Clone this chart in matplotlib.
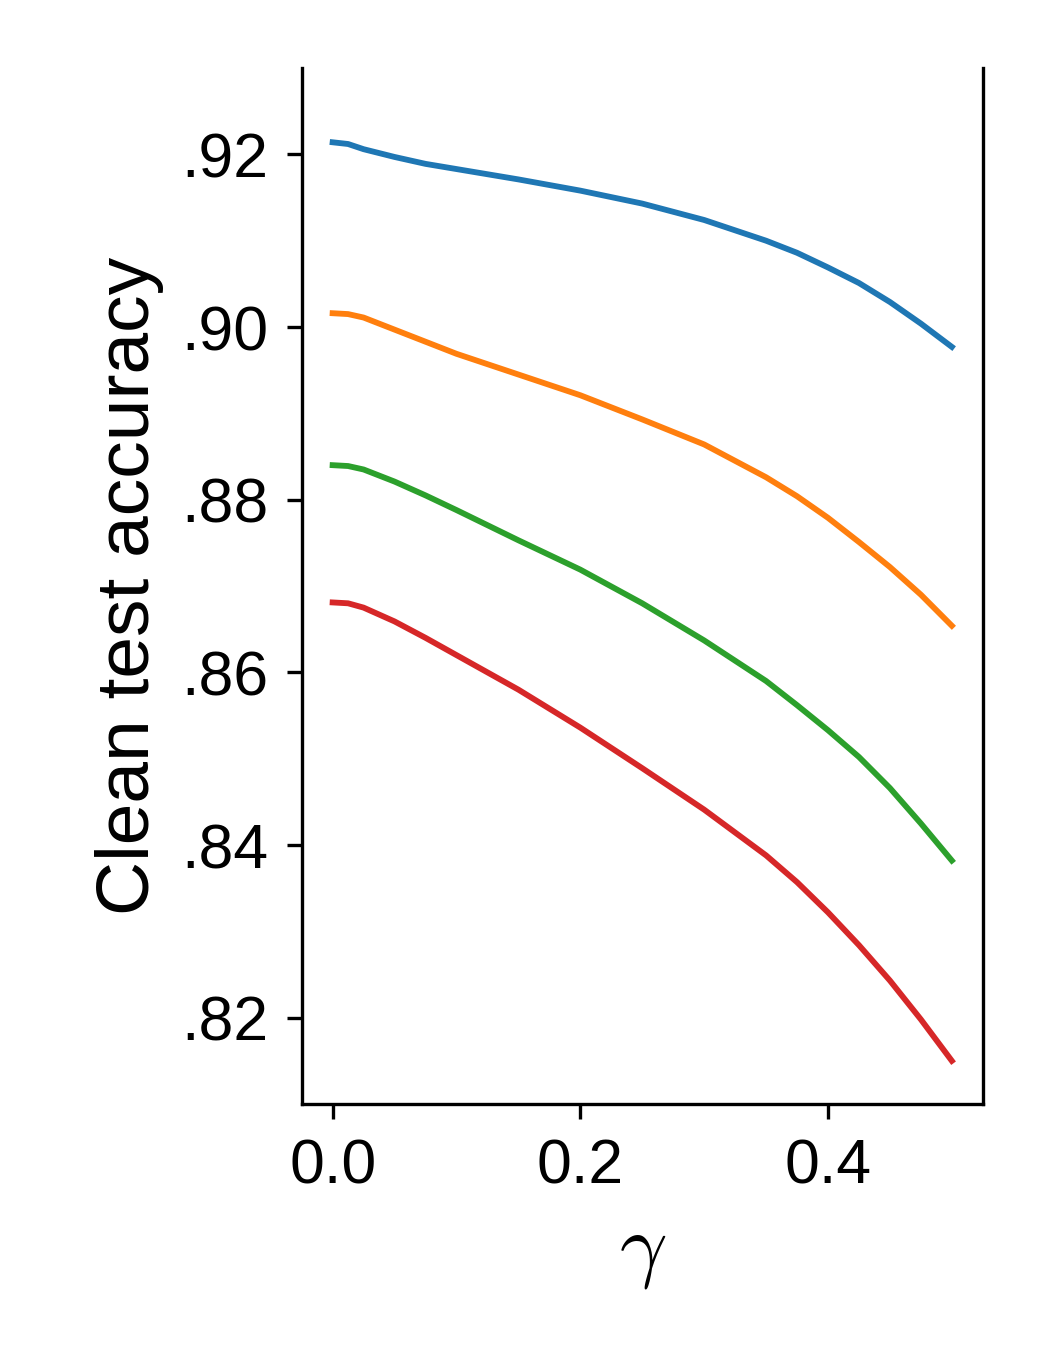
import numpy as np
import matplotlib
matplotlib.use('Agg')
import matplotlib.pyplot as plt
from matplotlib.ticker import FuncFormatter

plt.rcParams['font.family'] = ['Liberation Sans', 'DejaVu Sans']
plt.rcParams['mathtext.fontset'] = 'cm'

# values
gamma = [0.0, 0.0125, 0.025, 0.05, 0.075, 0.10, 0.15, 0.20, 0.25, 0.30,
         0.35, 0.375, 0.40, 0.425, 0.45, 0.475, 0.50]
acc_blue = [0.9214, 0.9212, 0.9206, 0.9197, 0.9189, 0.9183, 0.9171, 0.9158, 0.9143, 0.9124,
            0.9100, 0.9086, 0.9069, 0.9051, 0.9029, 0.9004, 0.8977]
acc_orange = [0.9016, 0.9015, 0.9011, 0.8997, 0.8983, 0.8969, 0.8945, 0.8921, 0.8893, 0.8864,
              0.8826, 0.8804, 0.8779, 0.8751, 0.8722, 0.8690, 0.8654]
acc_green = [0.8840, 0.8839, 0.8835, 0.8821, 0.8805, 0.8788, 0.8753, 0.8719, 0.8680, 0.8637,
             0.8590, 0.8562, 0.8533, 0.8502, 0.8466, 0.8425, 0.8382]
acc_red = [0.8681, 0.8680, 0.8675, 0.8659, 0.8640, 0.8620, 0.8580, 0.8536, 0.8489, 0.8441,
           0.8388, 0.8357, 0.8322, 0.8284, 0.8243, 0.8198, 0.8150]

yticks = [0.82, 0.84, 0.86, 0.88, 0.90, 0.92]
xticks = [0.0, 0.2, 0.4]

fig = plt.figure(figsize=(3.5, 4.5), dpi=300)
ax = fig.add_axes([0.2873, 0.1822, 0.6487, 0.7674])

for series, col in zip([acc_blue, acc_orange, acc_green, acc_red],
                       ['tab:blue', 'tab:orange', 'tab:green', 'tab:red']):
    ax.plot(gamma, series, color=col, lw=1.4)

ax.set_ylim(0.81, 0.93)
ax.set_yticks(yticks)
ax.set_xticks(xticks)
ax.yaxis.set_major_formatter(FuncFormatter(lambda v, p: f'{v:.2f}'[1:]))
ax.tick_params(labelsize=15, pad=4.5)
ax.spines['top'].set_visible(False)

ax.set_ylabel('Clean test accuracy', fontsize=18)
ax.set_xlabel(r'$\gamma$', fontsize=20)

fig.savefig('out.png', dpi=300)
